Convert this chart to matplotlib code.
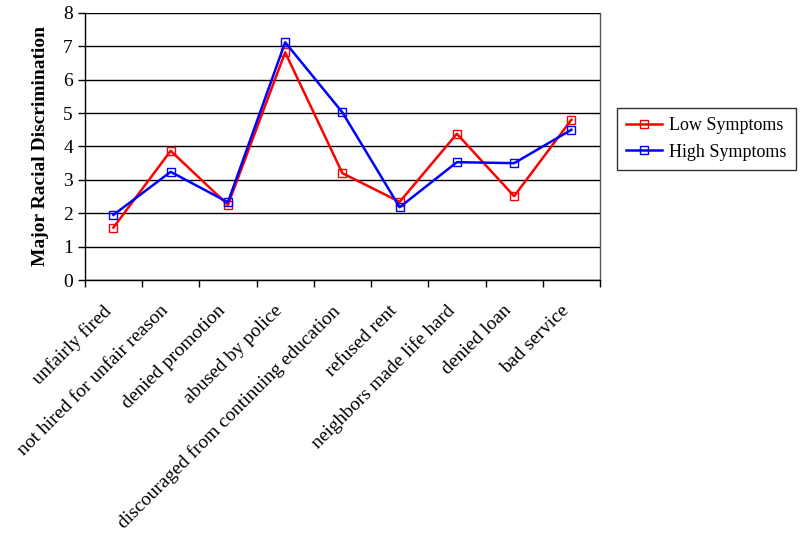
import matplotlib
matplotlib.use("Agg")
import matplotlib.pyplot as plt
import matplotlib.transforms as mtransforms

categories = ["unfairly fired", "not hired for unfair reason", "denied promotion",
              "abused by police", "discouraged from continuing education",
              "refused rent", "neighbors made life hard", "denied loan", "bad service"]
low_symptoms = [1.57, 3.87, 2.25, 6.82, 3.20, 2.34, 4.38, 2.51, 4.80]
high_symptoms = [1.95, 3.24, 2.33, 7.12, 5.02, 2.18, 3.53, 3.50, 4.50]
y_ticks = [0, 1, 2, 3, 4, 5, 6, 7, 8]

plt.rcParams['font.family'] = ['Liberation Serif', 'DejaVu Serif']

fig = plt.figure(figsize=(8, 5.39), dpi=100)
ax = fig.add_axes([0.106, 0.4805, 0.644, 0.4955])

x = list(range(len(categories)))
ax.plot(x, low_symptoms, color='#ff0000', lw=1.8, marker='s', markersize=5.5,
        markerfacecolor='none', markeredgewidth=1.0, label='Low Symptoms', zorder=3)
ax.plot(x, high_symptoms, color='#0000ff', lw=1.8, marker='s', markersize=5.5,
        markerfacecolor='none', markeredgewidth=1.0, label='High Symptoms', zorder=3)

ax.set_xlim(-0.5, len(categories) - 0.5)
ax.set_ylim(0, 8)
ax.set_yticks(y_ticks)
ax.set_yticklabels([str(v) for v in y_ticks], fontsize=14)
ax.yaxis.grid(True, color='black', lw=1.0)
ax.set_axisbelow(True)

ax.set_xticks([i - 0.5 for i in range(len(categories) + 1)])
ax.set_xticklabels([])
ax.set_xticks(x, minor=True)
ax.set_xticklabels(categories, minor=True, rotation=45, ha='right',
                   rotation_mode='anchor', fontsize=14)
ax.tick_params(axis='x', which='minor', length=0, pad=16)
ax.tick_params(axis='x', which='major', length=5, direction='out', width=1)
ax.tick_params(axis='y', length=5, direction='out', width=1)

offset = mtransforms.ScaledTranslation(-11 / 100, 0, fig.dpi_scale_trans)
for lbl in ax.get_xticklabels(minor=True):
    lbl.set_transform(lbl.get_transform() + offset)

for s in ax.spines.values():
    s.set_color('black')
    s.set_linewidth(1.0)
ax.spines['right'].set_color('#555555')
ax.spines['top'].set_visible(False)

ax.set_ylabel('Major Racial Discrimination', fontsize=14, fontweight='bold', labelpad=10)

leg = fig.legend(loc='upper left', bbox_to_anchor=(0.771, 0.80), fontsize=13,
                 frameon=True, fancybox=False, edgecolor='black', handlelength=2.0,
                 borderpad=0.5, labelspacing=0.55, handletextpad=0.4,
                 borderaxespad=0)
leg.get_frame().set_linewidth(1.0)

fig.savefig('out.png', dpi=100)
